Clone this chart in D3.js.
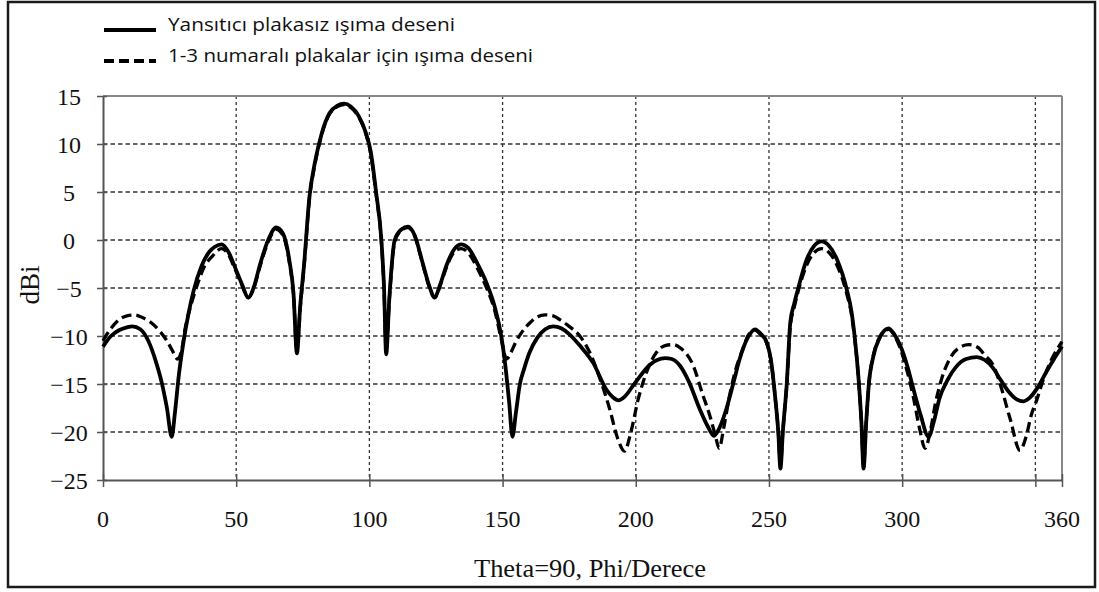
<!DOCTYPE html>
<html><head><meta charset="utf-8">
<script src="https://cdn.jsdelivr.net/npm/d3@7"></script>
<style>body{margin:0;background:#fff}
.serif{font-family:"Liberation Serif","Times New Roman",Tinos,Times,serif;}
.sans{font-family:"Open Sans",Lato,"Liberation Sans",sans-serif;}
</style></head>
<body><svg id="c" width="1099" height="592"></svg>
<script>
// ---- data ----
const seriesNames = ["Yansıtıcı plakasız ışıma deseni", "1-3 numaralı plakalar için ışıma deseni"];
const thetaSolid = [
0,3,6,9,11,14,17,20,22,24,
25.8,27,28.5,30,32,34,37,40,42,44.5,
47,49.5,52,54.6,56.5,59,62,65,67.5,70,
71.5,72.8,74,75.5,77.5,79.5,82,85,88,90.5,
93,96,98.5,100.5,102.5,104.5,105.5,106.3,107.5,109.5,
112,114.5,117,120,122.5,124.5,126.5,129,132,134.5,
137,141,144,147,149.5,151,152.5,153.7,155,156.5,
158,160,163,166,169,172,175,179,184,189,
191.5,193.5,195.5,199.7,205.3,208,211,213.5,216.6,220,
224,227,229.3,231,234,237,239,242,244.8,247,
249.2,251,252.3,253.5,254.3,255.2,256.7,258,259.5,261,
264.2,267,269.8,272.5,275.5,279.2,281,282.3,283.5,284.7,
285.5,286.5,287.5,289.2,291.5,294.9,297,299.3,302,304.3,
307,309.9,312,314,317,320,324,328,331,334,
337,340,343,345.5,348,351,354,357,360];
const dbiSolid = [
-11.1,-10.0,-9.4,-9.1,-9.0,-9.3,-10.5,-12.8,-14.8,-17.5,
-20.5,-18.0,-14.0,-11.0,-7.8,-5.3,-2.7,-1.2,-0.7,-0.45,
-1.2,-2.8,-4.5,-6.0,-5.0,-2.5,0.0,1.3,0.7,-2.2,
-5.5,-11.8,-7.0,-2.5,4.5,8.0,11.0,13.2,14.0,14.2,
13.9,12.9,11.3,9.2,5.0,0.0,-5.0,-11.9,-6.0,0.0,
1.1,1.4,0.5,-2.4,-4.8,-6.0,-4.7,-2.6,-0.9,-0.45,
-0.8,-2.7,-4.5,-6.9,-10.0,-13.0,-17.0,-20.5,-18.0,-15.0,
-13.5,-11.8,-10.2,-9.3,-9.0,-9.2,-9.8,-11.0,-12.8,-15.6,
-16.4,-16.7,-16.4,-14.9,-13.0,-12.5,-12.3,-12.4,-13.1,-14.8,
-17.6,-19.4,-20.4,-19.8,-17.6,-14.5,-12.4,-10.2,-9.3,-9.8,
-10.7,-13.0,-16.3,-20.0,-23.8,-20.0,-14.9,-8.6,-6.6,-5.0,
-2.0,-0.6,-0.15,-0.6,-2.0,-5.15,-7.5,-10.4,-14.0,-19.0,
-23.8,-19.0,-15.0,-12.1,-10.2,-9.2,-9.8,-11.0,-13.2,-15.6,
-18.3,-20.5,-18.8,-16.5,-14.6,-13.3,-12.4,-12.2,-12.5,-13.3,
-14.6,-15.8,-16.6,-16.8,-16.4,-15.3,-13.8,-12.4,-11.1];
const thetaDashed = [
0,3,6,9,12,15,18,21,24,26,
28,29.5,31,33,35,38,41,44.5,47,49.5,
52,54.6,56.5,59,62,65,67.5,70,71.5,72.8,
74,75.5,77.5,79.5,82,85,88,90.5,93,96,
98.5,100.5,102.5,104.5,105.5,106.3,107.5,109.5,112,114.5,
117,120,122.5,124.5,126.5,129,132,134.5,137,141,
144,147,149.5,151.5,153,155,157,160,163,166,
169,172,175,179,182.7,186,190.2,193,195.8,198,
200.9,204,207.8,211,214,217,221.6,225,227.8,229.8,
231.3,233,235,237.5,240,242.5,244.8,247,249.2,251,
252.3,253.5,254.3,255.2,256.7,258,259.5,261,264.2,267,
269.8,272.5,275.5,279.2,281,282.3,283.5,284.7,285.5,286.5,
287.5,289.2,291.5,294.9,297,299.3,302,304.3,306.5,308.6,
310.5,312.5,315,318,321,325,328.5,331,334.3,337,
340.6,344.2,346.5,348.5,350.6,353,356,360];
const dbiDashed = [
-10.5,-9.2,-8.3,-7.9,-7.8,-8.1,-8.6,-9.4,-10.5,-11.5,
-12.4,-11.5,-9.0,-6.8,-5.0,-2.8,-1.7,-0.9,-1.5,-3.0,
-4.6,-6.0,-5.1,-2.7,-0.2,1.1,0.5,-2.4,-5.6,-11.5,
-7.2,-2.7,4.3,7.8,10.9,13.1,13.9,14.1,13.8,12.8,
11.2,9.0,4.8,-0.2,-5.2,-11.5,-6.2,-0.2,1.0,1.3,
0.4,-2.5,-4.9,-6.0,-4.8,-2.8,-1.2,-0.9,-1.3,-3.2,
-5.0,-7.3,-10.3,-12.4,-11.8,-10.6,-9.7,-8.7,-8.0,-7.8,
-7.9,-8.4,-9.0,-10.0,-11.7,-14.0,-17.6,-20.5,-22.0,-20.2,
-16.6,-13.8,-11.7,-11.0,-10.9,-11.3,-13.1,-16.0,-18.3,-20.3,
-21.7,-19.6,-16.5,-13.5,-11.5,-9.8,-9.4,-9.9,-10.8,-13.0,
-16.3,-20.0,-23.5,-20.0,-15.0,-9.0,-7.0,-5.3,-2.6,-1.3,
-0.9,-1.3,-2.6,-5.6,-7.8,-10.6,-14.0,-19.0,-23.5,-19.0,
-15.0,-12.0,-10.2,-9.3,-9.9,-11.3,-13.8,-16.5,-19.6,-21.7,
-20.0,-17.0,-14.3,-12.3,-11.3,-10.9,-11.2,-12.0,-13.1,-15.2,
-18.7,-21.9,-20.5,-18.2,-16.6,-14.5,-12.5,-10.6];
const xTickMarks = [0,50,100,150,200,250,300,350,360];
const xTickLabels = [0,50,100,150,200,250,300,360];
const xGrid = [50,100,150,200,250,300,350];
const yTicks = [15,10,5,0,-5,-10,-15,-20,-25];
const yGrid = [10,5,0,-5,-10,-15,-20];
const xTitle = "Theta=90, Phi/Derece";
const yTitle = "dBi";

// ---- layout ----
const svg = d3.select("#c");
const L = 103, R = 1062, T = 96, B = 480;
const x = d3.scaleLinear().domain([0,360]).range([L,R]);
const y = d3.scaleLinear().domain([-25,15]).range([B,T]);

// outer frame
svg.append("rect").attr("x",8).attr("y",2).attr("width",1087).attr("height",585)
  .attr("fill","#fff").attr("stroke","#1a1a1a").attr("stroke-width",2.5);

// grid
svg.append("g").selectAll("line").data(yGrid).join("line")
  .attr("x1",L).attr("x2",R).attr("y1",d=>y(d)).attr("y2",d=>y(d))
  .attr("stroke","#333").attr("stroke-width",1.3).attr("stroke-dasharray","4.5,3");
svg.append("g").selectAll("line").data(xGrid).join("line")
  .attr("y1",T).attr("y2",B).attr("x1",d=>x(d)).attr("x2",d=>x(d))
  .attr("stroke","#333").attr("stroke-width",1.3).attr("stroke-dasharray","3,3");

// plot box top/right
svg.append("line").attr("x1",L).attr("x2",R).attr("y1",T).attr("y2",T).attr("stroke","#888").attr("stroke-width",2);
svg.append("line").attr("x1",R).attr("x2",R).attr("y1",T).attr("y2",B).attr("stroke","#888").attr("stroke-width",2);

// axes
const ya = svg.append("g").attr("transform",`translate(${L},0)`)
  .call(d3.axisLeft(y).tickValues(yTicks).tickFormat(d3.format("d")).tickSizeOuter(0))
  .attr("font-family",null).attr("font-size",null);
ya.select(".domain").attr("stroke","#555").attr("stroke-width",2);
ya.selectAll(".tick line").attr("x1",4).attr("x2",-6).attr("stroke","#555").attr("stroke-width",1.5);
ya.selectAll(".tick text").attr("class","serif").attr("x",-34).attr("text-anchor","middle").attr("dy","0.34em")
  .style("font-size","24px").attr("fill","#111");

const xa = svg.append("g").attr("transform",`translate(0,${B})`)
  .call(d3.axisBottom(x).tickValues(xTickMarks).tickFormat("").tickSizeOuter(0));
xa.select(".domain").attr("stroke","#555").attr("stroke-width",2.2);
xa.selectAll(".tick line").attr("y1",-6).attr("y2",7).attr("stroke","#555").attr("stroke-width",1.5);
svg.append("g").selectAll("text").data(xTickLabels).join("text").attr("class","serif")
  .attr("x",d=>x(d)).attr("y",B+47).attr("text-anchor","middle")
  .style("font-size","24px").attr("fill","#111").text(d=>d);

svg.append("text").attr("class","serif").attr("x",590).attr("y",577).attr("text-anchor","middle")
  .style("font-size","25px").attr("fill","#111")
  .attr("textLength",232).attr("lengthAdjust","spacingAndGlyphs").text(xTitle);
svg.append("text").attr("class","serif").attr("transform","translate(39,285) rotate(-90)").attr("text-anchor","middle")
  .style("font-size","27px").attr("fill","#111").text(yTitle);

// lines
const line = d3.line().x(d=>x(d[0])).y(d=>y(d[1])).curve(d3.curveMonotoneX);
const dashed = thetaDashed.map((t,i)=>[t,dbiDashed[i]]);
const solid = thetaSolid.map((t,i)=>[t,dbiSolid[i]]);
svg.append("path").datum(dashed).attr("d",line).attr("fill","none")
  .attr("stroke","#000").attr("stroke-width",3.3).attr("stroke-dasharray","10,5");
svg.append("path").datum(solid).attr("d",line).attr("fill","none")
  .attr("stroke","#000").attr("stroke-width",3.8);

// legend
const leg = svg.append("g");
[0,1].forEach(i=>{
  const ly = [30,61][i];
  leg.append("line").attr("x1",104).attr("x2",156).attr("y1",ly).attr("y2",ly)
    .attr("stroke","#000").attr("stroke-width",3.8).attr("stroke-dasharray", i ? "10,5" : null);
  leg.append("text").attr("class","sans").attr("x",168).attr("y",ly+1)
    .style("font-size","18px").attr("fill","#111")
    .attr("textLength",[287,365][i]).attr("lengthAdjust","spacingAndGlyphs").text(seriesNames[i]);
});
</script></body></html>
